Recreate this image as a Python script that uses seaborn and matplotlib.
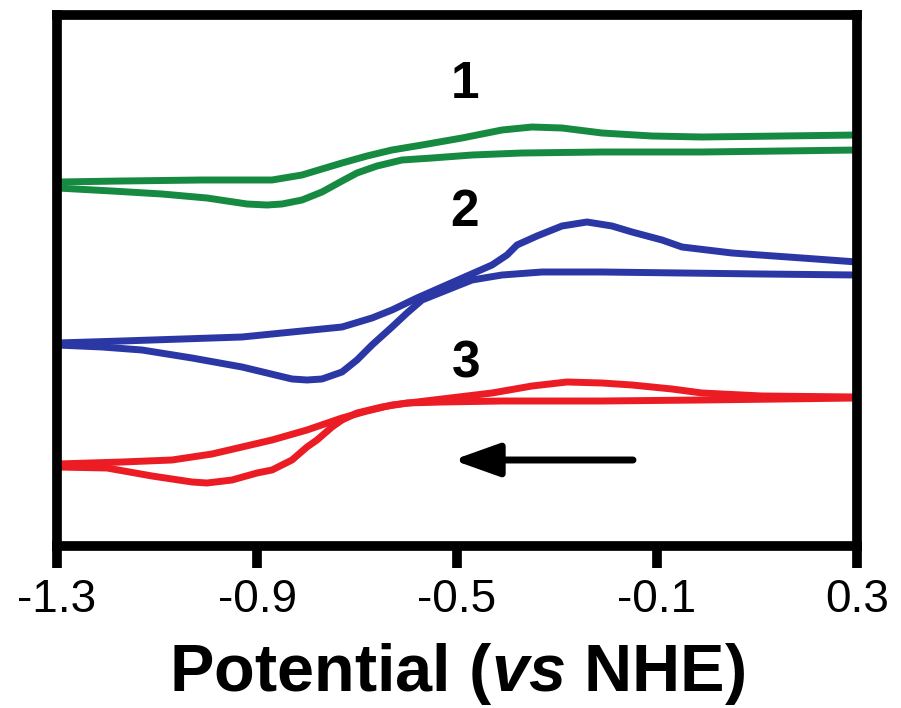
import numpy as np
import pandas as pd
import matplotlib
matplotlib.use("Agg")
import matplotlib.pyplot as plt
import seaborn as sns

# Cyclic voltammograms, potential (V vs NHE) vs current (arbitrary units, offset per trace)
# trace 1 (green)
e1_fwd = [0.30, 0.15, -0.01, -0.21, -0.37, -0.47, -0.55, -0.61, -0.66, -0.70,
          -0.73, -0.77, -0.81, -0.85, -0.88, -0.92, -1.00, -1.09, -1.19, -1.30]
i1_fwd = [396, 395, 394, 394, 393, 391, 388, 386, 380, 373,
          365, 354, 346, 342, 341, 342, 348, 352, 355, 358]
e1_rev = [-1.30, -1.17, -1.01, -0.87, -0.81, -0.77, -0.73, -0.68, -0.63, -0.57,
          -0.49, -0.41, -0.35, -0.29, -0.21, -0.11, -0.01, 0.15, 0.30]
i1_rev = [364, 365, 366, 366, 371, 377, 383, 390, 396, 401,
          408, 416, 419, 418, 413, 410, 409, 410, 411]

# trace 2 (blue)
e2_fwd = [0.30, 0.11, -0.05, -0.21, -0.33, -0.41, -0.47, -0.52, -0.57, -0.60, -0.63,
          -0.67, -0.70, -0.73, -0.77, -0.80, -0.83, -0.93, -1.03, -1.13, -1.21, -1.30]
i2_fwd = [271, 272, 273, 274, 274, 271, 266, 256, 246, 233, 219,
          201, 186, 174, 167, 166, 167, 179, 188, 196, 199, 201]
e2_rev = [-1.30, -1.17, -1.05, -0.93, -0.81, -0.73, -0.67, -0.63, -0.58, -0.53, -0.48, -0.43,
          -0.40, -0.38, -0.34, -0.29, -0.24, -0.19, -0.15, -0.09, -0.05, 0.05, 0.19, 0.30]
i2_rev = [203, 205, 207, 209, 215, 219, 228, 236, 248, 259, 270, 281,
          291, 301, 310, 320, 324, 320, 314, 306, 299, 293, 288, 284]

# trace 3 (red)
e3_fwd = [0.30, 0.15, -0.01, -0.21, -0.41, -0.53, -0.60, -0.65, -0.70, -0.73, -0.75,
          -0.78, -0.80, -0.83, -0.87, -0.90, -0.95, -1.00, -1.03, -1.11, -1.20, -1.30]
i3_fwd = [148, 147, 146, 145, 145, 144, 143, 139, 133, 126, 119,
          106, 99, 86, 76, 73, 66, 63, 64, 70, 78, 79]
e3_rev = [-1.30, -1.17, -1.07, -0.99, -0.93, -0.87, -0.80, -0.73, -0.68, -0.63,
          -0.53, -0.43, -0.35, -0.28, -0.21, -0.15, -0.07, -0.01, 0.11, 0.30]
i3_rev = [82, 84, 86, 92, 99, 106, 116, 128, 135, 141,
          147, 153, 160, 164, 163, 161, 157, 153, 150, 149]

trace_labels = ["1", "2", "3"]
label_pos = [(-0.484, 461), (-0.484, 334), (-0.482, 182)]
colors = ["#178a42", "#2b37a5", "#ec1c24"]
xticks = [-1.3, -0.9, -0.5, -0.1, 0.3]

# scan direction arrow (tail -> tip)
arrow_tail = (-0.148, 86)
arrow_tip = (-0.508, 86)

branches = [
    (e1_fwd, i1_fwd, 0), (e1_rev, i1_rev, 0),
    (e2_fwd, i2_fwd, 1), (e2_rev, i2_rev, 1),
    (e3_fwd, i3_fwd, 2), (e3_rev, i3_rev, 2),
]

sns.set_style("white")
plt.rcParams["font.family"] = ["Liberation Sans", "DejaVu Sans"]
plt.rcParams["axes.unicode_minus"] = False
plt.rcParams["text.color"] = "black"
plt.rcParams["axes.labelcolor"] = "black"
plt.rcParams["xtick.color"] = "black"
plt.rcParams["mathtext.fontset"] = "custom"
plt.rcParams["mathtext.rm"] = "Liberation Sans:bold"
plt.rcParams["mathtext.it"] = "Liberation Sans:italic:bold"
plt.rcParams["mathtext.bf"] = "Liberation Sans:bold"

fig = plt.figure(figsize=(9.01, 7.08), dpi=100)
ax = fig.add_axes([57 / 901, 162 / 708, 800 / 901, 531 / 708])

for e, i, k in branches:
    df = pd.DataFrame({"E": e, "I": i})
    sns.lineplot(data=df, x="E", y="I", sort=False, color=colors[k], lw=5,
                 ax=ax, solid_capstyle="butt", solid_joinstyle="round")

for lab, (x, y) in zip(trace_labels, label_pos):
    ax.text(x, y, lab, fontsize=37, fontweight="bold", ha="center", va="center",
            color="black")

ax.annotate("", xy=arrow_tip, xytext=arrow_tail,
            arrowprops=dict(arrowstyle="-|>,head_length=1.4,head_width=0.5",
                            mutation_scale=20, lw=5, color="black",
                            shrinkA=0, shrinkB=0))

ax.set_xlim(-1.3, 0.3)
ax.set_ylim(0, 531)
ax.set_xticks(xticks)
ax.set_xticklabels([f"{t:.1f}" for t in xticks])
ax.set_yticks([])
ax.set_ylabel("")
ax.set_xlabel(r"Potential ($\mathit{vs}$ NHE)", fontsize=48, fontweight="bold",
              labelpad=14, color="black")
ax.tick_params(axis="x", direction="out", length=16, width=7, labelsize=33,
               pad=7, bottom=True, colors="black")
for s in ax.spines.values():
    s.set_visible(True)
    s.set_linewidth(7)
    s.set_color("black")

fig.savefig("out.png", dpi=100)
